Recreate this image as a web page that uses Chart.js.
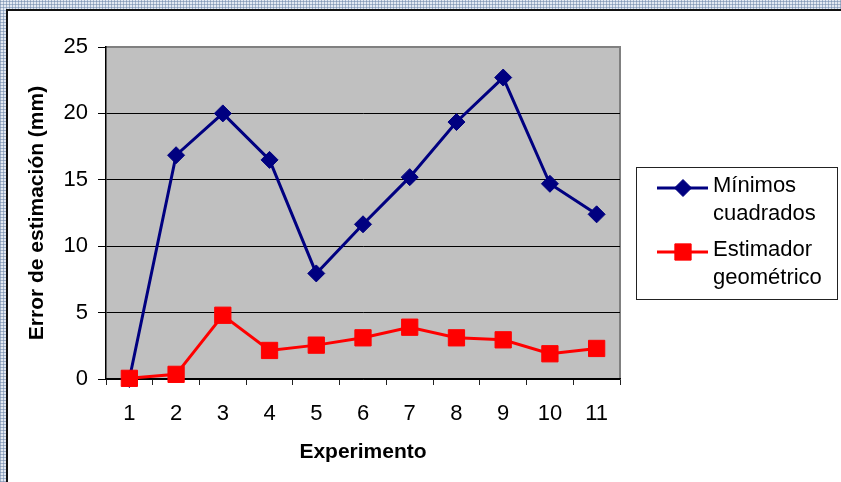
<!DOCTYPE html>
<html>
<head>
<meta charset="utf-8">
<script src="https://cdn.jsdelivr.net/npm/chart.js@4/dist/chart.umd.min.js"></script>
<style>
  body {
    margin: 0;
    width: 841px;
    height: 482px;
    position: relative;
    overflow: hidden;
    background-color: #e3e9f2;
    background-image:
      repeating-linear-gradient(0deg, rgba(110, 135, 170, 0.55) 0 1px, transparent 1px 3px),
      repeating-linear-gradient(90deg, rgba(110, 135, 170, 0.55) 0 1px, transparent 1px 3px);
  }
  #frame {
    position: absolute;
    left: 6px;
    top: 9px;
    right: 0;
    bottom: 0;
    background: #fff;
    border-left: 2px solid #111;
    border-top: 2px solid #111;
  }
  #grafico {
    position: absolute;
    left: 0;
    top: 0;
  }
</style>
</head>
<body>
<div id="frame"></div>
<canvas id="grafico" width="841" height="482"></canvas>
<script>
// datos
const experimentos = ['1', '2', '3', '4', '5', '6', '7', '8', '9', '10', '11'];
const minimosCuadrados = [0, 16.85, 20.0, 16.5, 7.95, 11.65, 15.2, 19.35, 22.7, 14.7, 12.4];
const estimadorGeometrico = [0.05, 0.35, 4.8, 2.15, 2.55, 3.1, 3.9, 3.1, 2.95, 1.9, 2.3];
const yTicks = [0, 5, 10, 15, 20, 25];
const legendLines = [['Mínimos', 'cuadrados'], ['Estimador', 'geométrico']];

const fuente = '"Liberation Sans", Arial, sans-serif';

// fondo gris del area de trazado
const fondoPlot = {
  id: 'fondoPlot',
  beforeDraw(chart) {
    const a = chart.chartArea;
    const ctx = chart.ctx;
    ctx.save();
    ctx.fillStyle = '#c0c0c0';
    ctx.fillRect(a.left, a.top, a.right - a.left, a.bottom - a.top);
    ctx.strokeStyle = '#808080';
    ctx.lineWidth = 2;
    ctx.beginPath();
    ctx.moveTo(a.left, a.top);
    ctx.lineTo(a.right, a.top);
    ctx.lineTo(a.right, a.bottom);
    ctx.stroke();
    ctx.restore();
  }
};

// leyenda a la derecha, con texto en dos lineas
const leyenda = {
  id: 'leyenda',
  afterDraw(chart) {
    const ctx = chart.ctx;
    ctx.save();
    ctx.fillStyle = '#fff';
    ctx.fillRect(636, 167, 201, 132);
    ctx.strokeStyle = '#222';
    ctx.lineWidth = 1;
    ctx.strokeRect(636.5, 167.5, 201, 132);
    const lineY = [188, 252];
    const baseY = [192, 256];
    chart.data.datasets.forEach((ds, i) => {
      ctx.strokeStyle = ds.borderColor;
      ctx.lineWidth = ds.borderWidth;
      ctx.beginPath();
      ctx.moveTo(657, lineY[i]);
      ctx.lineTo(708, lineY[i]);
      ctx.stroke();
      ctx.fillStyle = ds.pointBackgroundColor;
      ctx.strokeStyle = ds.pointBorderColor;
      ctx.lineWidth = 1;
      Chart.helpers.drawPoint(ctx, {pointStyle: ds.pointStyle, radius: ds.pointRadius, rotation: 0, borderWidth: 1}, 683, lineY[i]);
      ctx.fillStyle = '#000';
      ctx.font = '22px ' + fuente;
      ctx.textBaseline = 'alphabetic';
      legendLines[i].forEach((t, j) => {
        ctx.fillText(t, 713, baseY[i] + j * 28);
      });
    });
    ctx.restore();
  }
};

new Chart(document.getElementById('grafico'), {
  type: 'line',
  data: {
    labels: experimentos,
    datasets: [
      {
        label: 'Mínimos cuadrados',
        data: minimosCuadrados,
        borderColor: '#000080',
        borderWidth: 3,
        pointStyle: 'rectRot',
        pointRadius: 8.5,
        pointBackgroundColor: '#000080',
        pointBorderColor: '#000080',
        pointBorderWidth: 1,
        tension: 0,
        clip: false,
        order: 1
      },
      {
        label: 'Estimador geométrico',
        data: estimadorGeometrico,
        borderColor: '#ff0000',
        borderWidth: 3,
        pointStyle: 'rect',
        pointRadius: 11.5,
        pointBackgroundColor: '#ff0000',
        pointBorderColor: '#ff0000',
        pointBorderWidth: 1,
        tension: 0,
        clip: false,
        order: 0
      }
    ]
  },
  options: {
    responsive: false,
    animation: false,
    layout: { padding: { left: 10, top: 47, right: 221, bottom: 10 } },
    plugins: {
      legend: { display: false },
      tooltip: { enabled: false }
    },
    scales: {
      x: {
        offset: true,
        afterFit(scale) { scale.height = 93; },
        grid: {
          offset: true,
          drawOnChartArea: false,
          drawTicks: true,
          tickLength: 6,
          color: '#222'
        },
        border: { color: '#000', width: 1.5 },
        ticks: {
          color: '#000',
          padding: 16,
          font: { family: fuente, size: 22 }
        },
        title: {
          display: true,
          text: 'Experimento',
          color: '#000',
          padding: { top: 0, bottom: 7 },
          font: { family: fuente, size: 21, weight: 'bold' }
        }
      },
      y: {
        min: 0,
        max: 25,
        afterFit(scale) { scale.width = 96; },
        afterBuildTicks(scale) { scale.ticks = yTicks.map(v => ({ value: v })); },
        grid: {
          color: ctx => ctx.tick && ctx.tick.value === 25 ? '#808080' : '#000',
          lineWidth: 1,
          drawTicks: true,
          tickLength: 8,
          tickColor: '#000'
        },
        border: { color: '#000', width: 1.5 },
        ticks: {
          color: '#000',
          padding: 10,
          font: { family: fuente, size: 22 }
        },
        title: {
          display: true,
          text: 'Error de estimación (mm)',
          color: '#000',
          padding: { top: 15, bottom: 0 },
          font: { family: fuente, size: 21, weight: 'bold' }
        }
      }
    }
  },
  plugins: [fondoPlot, leyenda]
});
</script>
</body>
</html>
